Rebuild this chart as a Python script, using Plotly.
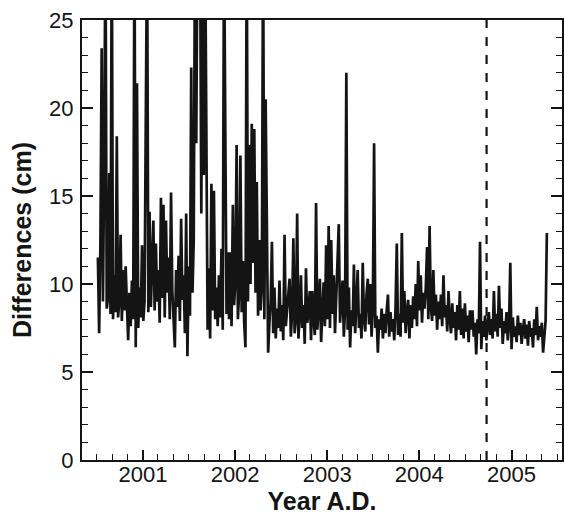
import pandas as pd
import plotly.graph_objects as go

# ---- data (cm), one sample every 5 days starting 2000-07-06 ----
start_date = "2000-07-06"
step = "5D"

vals_2000 = [11.5, 7.2, 12.3, 23.4, 9.0, 16.8, 30, 8.6,
             9.2, 16.3, 8.3, 30, 8.0, 10.5, 8.4, 18.4,
             8.1, 9.0, 12.8, 7.9, 10.8, 8.5, 11.0, 8.2,
             6.8, 9.5, 7.6, 10.2, 8.0, 30, 6.4, 21.4,
             7.5, 9.8, 8.1, 12.2, 7.9, 9.0, 22.3, 30]
vals_2001 = [8.4, 14.1, 8.7, 11.0, 13.6, 8.5, 12.3, 9.0,
             10.8, 7.8, 14.9, 9.2, 14.5, 8.1, 13.6, 9.5,
             11.5, 8.0, 15.2, 9.6, 7.5, 6.4, 10.8, 8.7,
             11.6, 7.9, 13.7, 9.1, 10.5, 7.2, 14.0, 5.9,
             11.0, 8.2, 22.3, 9.5, 12.5, 30, 18.0, 30,
             28, 30, 14.0, 30, 16.2, 30, 19.6, 7.4,
             10.9, 6.9, 15.7, 8.5, 15.3, 8.0, 9.8, 7.6,
             10.5, 8.1, 12.0, 7.4, 30, 15.0, 8.3, 11.8,
             8.0, 11.8, 7.6, 14.5, 8.8, 10.2, 17.9, 8.0]
vals_2002 = [9.5, 17.3, 8.4, 11.3, 7.8, 6.4, 30, 9.0,
             17.9, 10.0, 19.1, 11.2, 18.8, 9.5, 15.8, 8.2,
             12.5, 8.5, 9.8, 30, 8.0, 20.5, 14.6, 6.1,
             7.8, 9.0, 12.4, 7.2, 9.8, 6.9, 8.6, 7.5,
             10.2, 7.3, 8.8, 6.8, 12.8, 7.6, 8.5, 9.5,
             10.3, 7.0, 8.4, 12.6, 7.2, 8.0, 14.0, 6.9,
             8.2, 10.5, 7.5, 8.8, 6.6, 10.9, 7.8, 8.4,
             9.6, 6.8, 9.6, 8.0, 7.1, 14.6, 7.4, 8.6,
             10.3, 6.7, 8.5, 10.1, 7.6, 12.2, 8.0, 13.3]
vals_2003 = [7.5, 12.5, 8.3, 10.5, 7.2, 9.2, 10.3, 13.4,
             7.8, 9.5, 10.2, 7.0, 8.6, 22.0, 7.4, 9.8,
             6.4, 8.5, 7.6, 11.1, 7.2, 9.0, 10.8, 7.5,
             8.3, 6.9, 11.2, 8.0, 7.3, 9.4, 10.3, 7.7,
             10.0, 7.0, 8.6, 18.0, 7.5, 8.2, 6.1, 8.0,
             7.4, 8.6, 6.9, 8.3, 7.2, 8.5, 9.4, 7.0,
             8.4, 7.3, 8.0, 6.8, 8.6, 12.3, 7.1, 8.3,
             7.0, 12.9, 7.8, 9.6, 7.2, 8.4, 9.1, 6.9,
             8.8, 7.5, 9.3, 8.0, 10.0, 7.6, 11.3, 8.5]
vals_2004 = [10.5, 7.8, 9.5, 8.6, 9.8, 12.1, 8.0, 13.3,
             8.7, 7.9, 10.8, 8.2, 9.4, 7.4, 9.0, 8.0,
             9.4, 7.6, 10.5, 8.1, 8.8, 7.3, 9.6, 8.0,
             7.2, 8.9, 7.5, 8.4, 6.8, 8.8, 7.4, 9.6,
             7.1, 8.6, 6.9, 8.9, 7.3, 8.2, 6.7, 8.5,
             7.4, 8.5, 7.0, 7.8, 6.0, 8.0, 7.2, 12.4,
             6.3, 7.9, 7.0, 8.2, 6.8, 7.6, 8.4, 7.1,
             8.0, 6.9, 9.6, 7.3, 8.3, 7.0, 9.9, 7.5]
vals_2005 = [8.6, 6.6, 7.9, 7.2, 8.4, 6.8, 7.7, 11.2,
             6.3, 8.1, 7.0, 7.6, 6.7, 8.2, 7.1, 7.8,
             6.6, 7.4, 8.0, 6.9, 7.7, 6.5, 7.9, 7.0,
             7.5, 6.4, 8.0, 7.1, 8.7, 6.8, 7.6, 7.0,
             7.8, 6.1, 7.3, 7.9, 12.9]

values = vals_2000 + vals_2001 + vals_2002 + vals_2003 + vals_2004 + vals_2005
dates = pd.date_range(start_date, periods=len(values), freq=step)

event_date = "2004-09-24"
x_range = ["2000-05-04", "2005-07-20"]
y_range = [0, 25]

FONT = "Liberation Sans, Arial, Helvetica, sans-serif"
INK = "#141414"

fig = go.Figure()
fig.add_trace(go.Scatter(x=dates, y=values, mode="lines",
                         line=dict(color=INK, width=2.7), showlegend=False))

fig.add_shape(type="line", xref="x", yref="y",
              x0=event_date, x1=event_date, y0=y_range[0], y1=y_range[1],
              line=dict(color=INK, width=2.2, dash="dash"))

fig.update_xaxes(
    type="date", range=x_range, automargin=False,
    tickformat="%Y", dtick="M12", tick0="2001-01-01",
    ticks="inside", ticklen=10, tickwidth=2, tickcolor=INK,
    minor=dict(dtick="M2", tick0="2001-01-01", ticks="inside", ticklen=6,
               tickwidth=1.3, tickcolor=INK, showgrid=False),
    showline=True, linecolor=INK, linewidth=2, mirror=True,
    showgrid=False, zeroline=False,
    tickfont=dict(family=FONT, size=22, color=INK),
    ticklabelstandoff=-6,
    title=dict(text="<b>Year A.D.</b>", font=dict(family=FONT, size=25, color=INK),
               standoff=0),
)
fig.update_yaxes(
    range=y_range, dtick=5, tick0=0, automargin=False,
    ticks="inside", ticklen=11, tickwidth=2, tickcolor=INK,
    minor=dict(dtick=1, ticks="inside", ticklen=6, tickwidth=1.3,
               tickcolor=INK, showgrid=False),
    showline=True, linecolor=INK, linewidth=2, mirror="ticks",
    showgrid=False, zeroline=False,
    tickfont=dict(family=FONT, size=22, color=INK),
    ticklabelstandoff=2,
    title=dict(text="<b>Differences (cm)</b>", font=dict(family=FONT, size=25, color=INK),
               standoff=10),
)

fig.update_layout(
    width=564, height=515,
    margin=dict(l=82, r=2, t=20, b=55),
    plot_bgcolor="white", paper_bgcolor="white",
)

fig.write_html("out.html", config={"displayModeBar": False},
               post_script="document.body.style.margin='0';")
